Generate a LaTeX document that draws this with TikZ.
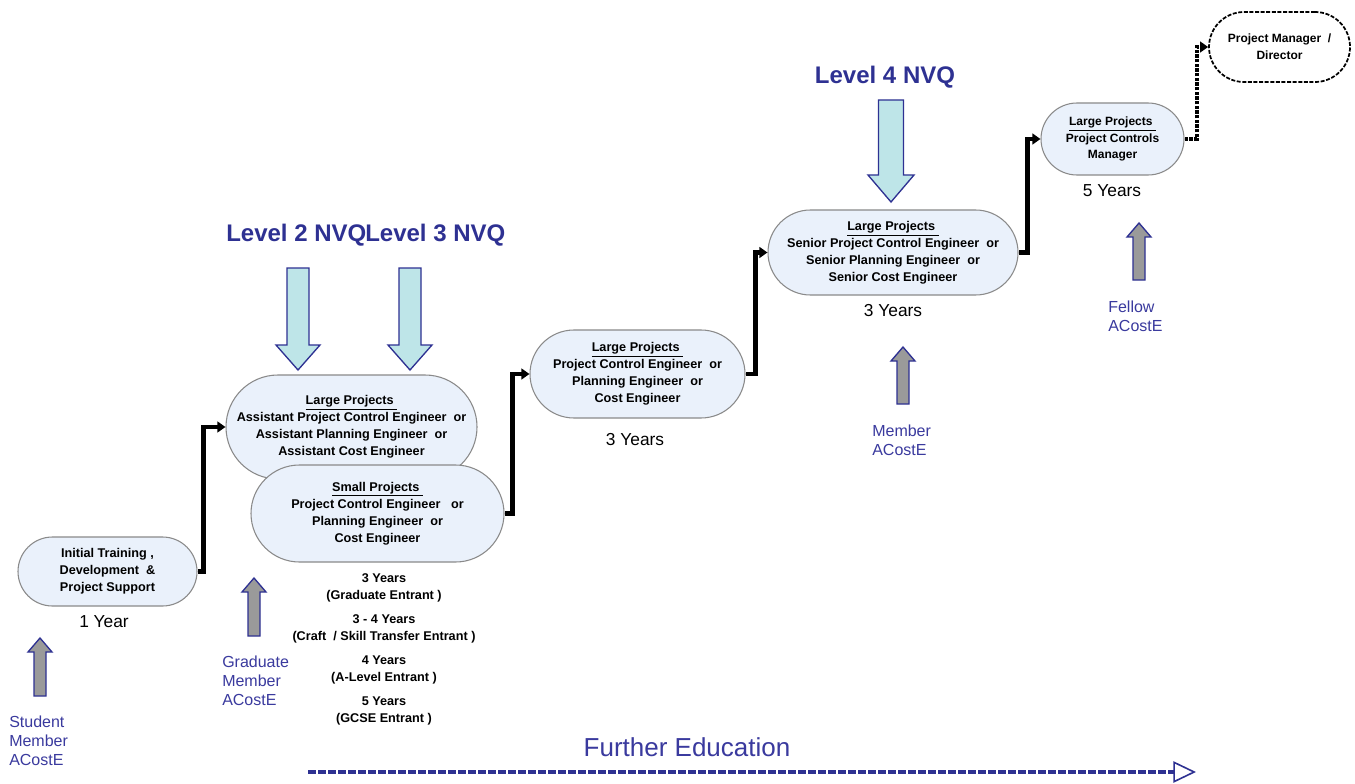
\documentclass[tikz,border=0pt]{standalone}
\usepackage{fontspec}
\setmainfont{Liberation Sans}
\usetikzlibrary{arrows.meta}
\definecolor{nodefill}{HTML}{EAF1FB}
\definecolor{nodeborder}{HTML}{8A8A8A}
\definecolor{arrowfill}{HTML}{BEE5E8}
\definecolor{navy}{HTML}{2E3192}
\definecolor{labelblue}{HTML}{3A3A9E}
\definecolor{grayfill}{HTML}{9A9A9A}
\newcommand{\blockdown}[6]{% cx, top, shaft half width, head start, head half width, tip
  \filldraw[fill=arrowfill, draw=navy, line width=1pt, line join=miter]
    (#1-#3,#2) -- (#1+#3,#2) -- (#1+#3,#4) -- (#1+#5,#4) -- (#1,#6) -- (#1-#5,#4) -- (#1-#3,#4) -- cycle;}
\newcommand{\blockup}[4]{% cx, tip, head base, bottom
  \filldraw[fill=grayfill, draw=navy, line width=1pt, line join=miter]
    (#1,#2) -- (#1+12,#3) -- (#1+6,#3) -- (#1+6,#4) -- (#1-6,#4) -- (#1-6,#3) -- (#1-12,#3) -- cycle;}
\begin{document}
\begin{tikzpicture}[x=0.75pt,y=-0.75pt,
  stage/.style={draw=nodeborder, fill=nodefill, line width=0.8pt, inner sep=0pt, align=center,
    font=\fontsize{9.5}{12.75}\selectfont\bfseries},
  conn/.style={line width=3.6pt, -{Triangle[length=6pt,width=8pt]}},
  dconn/.style={line width=3pt, dash pattern=on 2.5pt off 1pt, -{Triangle[length=6pt,width=8pt]}},
  yr/.style={inner sep=0pt, font=\fontsize{13}{15}\selectfont},
  memb/.style={inner sep=0pt, anchor=west, align=left, text=labelblue, font=\fontsize{12}{14.25}\selectfont},
  lvl/.style={inner sep=0pt, text=navy, font=\fontsize{18}{20}\selectfont\bfseries},
  entr/.style={inner sep=0pt, align=center, font=\fontsize{9.5}{12.75}\selectfont\bfseries},
  fe/.style={draw=navy, line width=2.6pt, dash pattern=on 6pt off 1.5pt,
    -{Triangle[open, line width=1.2pt, length=17pt, width=16pt]}}
]
\fill[white] (0,0) rectangle (1355,784);
\useasboundingbox (0,0) rectangle (1355,784);

% stage nodes
\node[stage, minimum width=134.25pt, minimum height=51.75pt, rounded corners=25.87pt] (n1) at (107.5,571.5)
  {Initial Training ,\\Development \ \&\\Project Support};
\node[stage, minimum width=188.25pt, minimum height=78pt, rounded corners=39pt] (n2) at (351.5,427)
  {\underline{Large Projects\ }\\Assistant Project Control Engineer \ or\\Assistant Planning Engineer \ or\\Assistant Cost Engineer};
\node[stage, minimum width=189.75pt, minimum height=72.75pt, rounded corners=36.37pt] (n3) at (377.5,513.5)
  {\underline{Small Projects\ }\\Project Control Engineer \ \ or\\Planning Engineer \ or\\Cost Engineer};
\node[stage, minimum width=161.25pt, minimum height=66pt, rounded corners=33pt] (n4) at (637.5,374)
  {\underline{Large Projects\ }\\Project Control Engineer \ or\\Planning Engineer \ or\\Cost Engineer};
\node[stage, minimum width=187.5pt, minimum height=63.75pt, rounded corners=31.87pt] (n5) at (893,252.5)
  {\underline{Large Projects\ }\\Senior Project Control Engineer \ or\\Senior Planning Engineer \ or\\Senior Cost Engineer};
\node[stage, minimum width=107.25pt, minimum height=54pt, rounded corners=27pt, font=\fontsize{9}{12.5}\selectfont\bfseries] (n6) at (1112.5,139)
  {\underline{Large Projects\ }\\Project Controls\\Manager};
\node[stage, draw=black, fill=white, line width=1.3pt, dash pattern=on 3pt off 1.2pt, minimum width=105.75pt, minimum height=52.5pt, rounded corners=26.25pt, font=\fontsize{9}{12.5}\selectfont\bfseries] (n7) at (1279.5,47)
  {Project Manager \ /\\Director};

% connectors
\draw[conn] (n1.east) -- ++(6,0) |- (n2.west);
\draw[conn] (n3.east) -- ++(8,0) |- (n4.west);
\draw[conn] (n4.east) -- ++(10,0) |- (n5.west);
\draw[conn] (n5.east) -- ++(9,0) |- (n6.west);
\draw[dconn] (n6.east) -- ++(12,0) |- (n7.west);

% years
\node[yr] (y1) at (104,622) {1 Year};
\node[yr] (y4) at (635,440) {3 Years};
\node[yr] (y5) at (893,311) {3 Years};
\node[yr] (y6) at (1112,191) {5 Years};

\node[entr] (entr) at (384,649) {3 Years\\(Graduate Entrant )\\[5.25pt]3 - 4 Years\\(Craft \ / Skill Transfer Entrant )\\[5.25pt]4 Years\\(A-Level Entrant )\\[5.25pt]5 Years\\(GCSE Entrant )};

% NVQ arrows
\node[lvl, anchor=west] (l2) at (226,235) {Level 2 NVQ};
\node[lvl, anchor=west] (l3) at (365,235) {Level 3 NVQ};
\node[lvl] (l4) at (885,77) {Level 4 NVQ};
\blockdown{298}{268}{11}{345}{22}{370}
\blockdown{410}{268}{11}{345}{22}{370}
\blockdown{891}{100}{12.5}{175}{23}{202}

% membership arrows
\blockup{40}{638}{652}{696}
\blockup{254}{578}{592}{636}
\blockup{903}{347}{361}{404}
\blockup{1139}{223}{237}{280}
\node[memb] (m1) at (9,741) {Student\\Member\\ACostE};
\node[memb] (m2) at (222,681) {Graduate\\Member\\ACostE};
\node[memb] (m3) at (872,440) {Member\\ACostE};
\node[memb] (m4) at (1108,316) {Fellow\\ACostE};

% further education
\node[inner sep=0pt, text=labelblue, font=\fontsize{19.5}{22}\selectfont] (fe) at (687,747) {Further Education};
\coordinate (fe0) at (308,772);
\coordinate (fe1) at (1196,772);
\draw[fe] (fe0) -- (fe1);
\end{tikzpicture}
\end{document}
